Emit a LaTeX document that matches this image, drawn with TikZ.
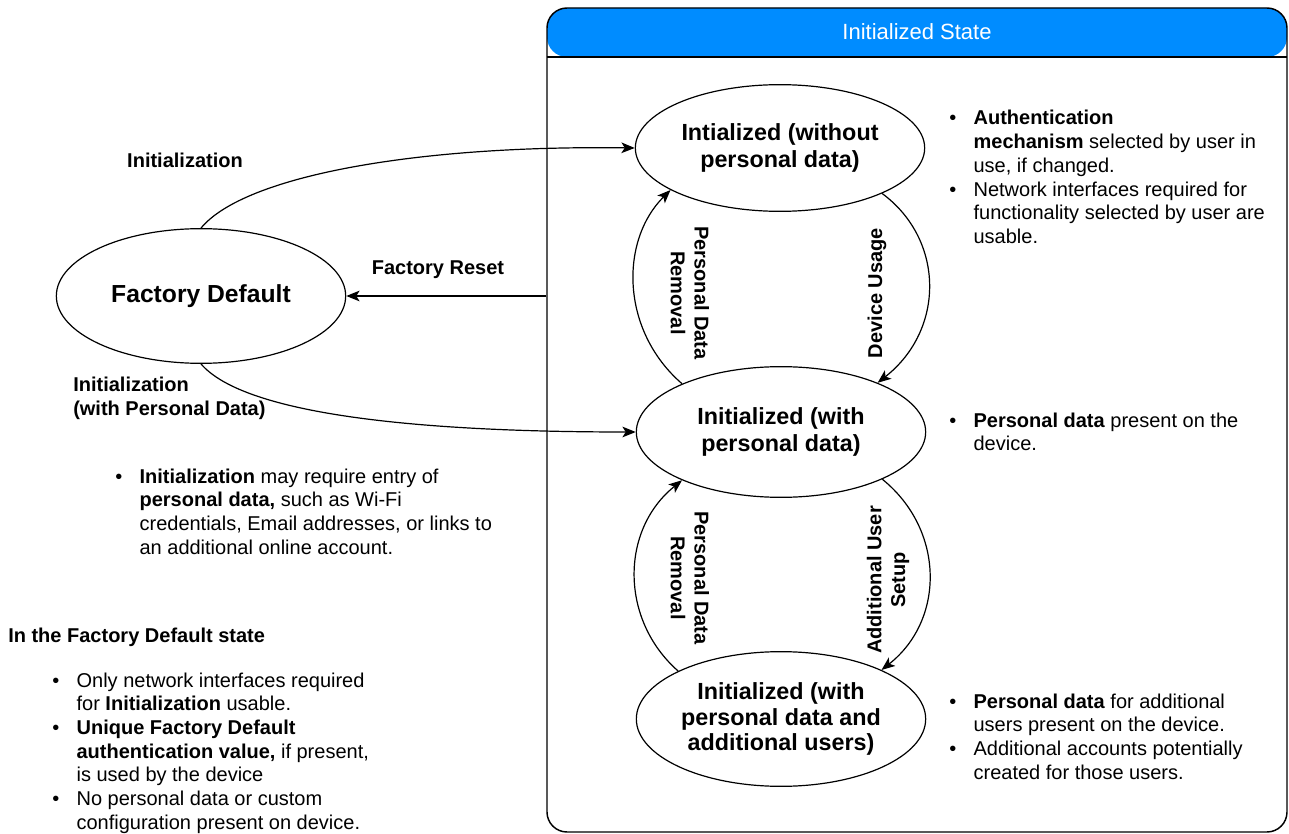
\documentclass[tikz,border=0pt]{standalone}
\usepackage{fontspec}
\setmainfont{Liberation Sans}
\usetikzlibrary{shapes,arrows,arrows.meta}
\usetikzlibrary{positioning}
\definecolor{headblue}{RGB}{0,140,255}
\tikzstyle{state} = [ellipse, draw, line width=0.9pt, text centered, align=center, font=\fontsize{17.5}{20}\selectfont\bfseries, minimum width=217pt, minimum height=98pt, inner sep=1pt]
\tikzstyle{line} = [draw, line width=0.9pt, -{Stealth[length=10pt,width=8pt,inset=2.5pt]}]
\tikzstyle{lbl} = [font=\fontsize{15}{17.8}\selectfont\bfseries, align=center, inner sep=0pt]
\tikzstyle{notes} = [font=\fontsize{15}{17.8}\selectfont, align=left, inner sep=0pt, anchor=base west]
\tikzstyle{container} = [rectangle, draw, line width=1.1pt, rounded corners=15pt, minimum width=555pt, minimum height=618pt,
  path picture={\fill[headblue] (path picture bounding box.north west) rectangle ([yshift=-36.75pt]path picture bounding box.north east);}]
\newcommand{\bul}{\textbullet}

\begin{document}
\begin{tikzpicture}[x=0.75pt, y=-0.75pt]
\useasboundingbox (0,0) rectangle (1289,834);
% Place nodes
\node [container] (initbox) at (917,420) {};
\node [anchor=north, minimum width=555pt, minimum height=36.75pt, inner sep=0pt, text=white, font=\fontsize{16.5}{20}\selectfont] (inithead) at (initbox.north) {Initialized State};
\draw [line width=1.1pt] (inithead.south west) -- (inithead.south east);

\node [state, font=\fontsize{18.5}{21}\selectfont\bfseries, minimum height=101pt] (fd) at (201,296) {Factory Default};
\node [state, minimum height=95pt] (wopd) at (780,148) {Intialized (without\\personal data)};
\node [state] (wpd) at (781,432) {Initialized (with\\personal data)};
\node [state, font=\fontsize{17.5}{19.3}\selectfont\bfseries, minimum height=101pt] (wpdau) at (781,719) {Initialized (with\\personal data and\\additional users)};

% Draw edges
\path [line] (fd.north) .. controls (245,175) and (420,145) .. (wopd.west);
\path [line] (fd.south) .. controls (245,415) and (420,432) .. (wpd.west);
\path [line] (initbox.west |- fd) -- (fd);
\path [line] (wpd.154) .. controls (620,330) and (620,240) .. (wopd.201);
\path [line] (wopd.336) .. controls (945,240) and (945,330) .. (wpd.27);
\path [line] (wpdau.155) .. controls (620,620) and (620,530) .. (wpd.206);
\path [line] (wpd.335) .. controls (945,530) and (945,620) .. (wpdau.26);

% Edge labels
\node [lbl] (initlbl) at (185,160) {Initialization};
\node [lbl] (resetlbl) at (438,270) {Factory Reset};
\node [lbl, align=left, anchor=base west] (initpdlbl) at (73,415) {Initialization\\(with Personal Data)};
\node [lbl, rotate=-90] (rmlbl) at (690,293) {Personal Data\\Removal};
\node [lbl, rotate=90] (uselbl) at (877,293) {Device Usage};
\node [lbl, rotate=-90] (rmlbl2) at (690,578) {Personal Data\\Removal};
\node [lbl, rotate=90] (addlbl) at (888,580) {Additional User\\Setup};

% Notes
\node [notes] (initnote) at (115,483) {\begin{tabular}[t]{@{}l@{\hspace{13pt}}l@{}}
\bul & \textbf{Initialization} may require entry of\\
 & \textbf{personal data,} such as Wi-Fi\\
 & credentials, Email addresses, or links to\\
 & an additional online account.
\end{tabular}};
\node [lbl, anchor=base west] (fdhead) at (8,642) {In the Factory Default state};
\node [notes] (fdnote) at (52,687) {\begin{tabular}[t]{@{}l@{\hspace{13pt}}l@{}}
\bul & Only network interfaces required\\
 & for \textbf{Initialization} usable.\\
\bul & \textbf{Unique Factory Default}\\
 & \textbf{authentication value,} if present,\\
 & is used by the device\\
\bul & No personal data or custom\\
 & configuration present on device.
\end{tabular}};
\node [notes] (wopdnote) at (949,125) {\begin{tabular}[t]{@{}l@{\hspace{13pt}}l@{}}
\bul & \textbf{Authentication}\\
 & \textbf{mechanism} selected by user in\\
 & use, if changed.\\
\bul & Network interfaces required for\\
 & functionality selected by user are\\
 & usable.
\end{tabular}};
\node [notes] (wpdnote) at (949,427) {\begin{tabular}[t]{@{}l@{\hspace{13pt}}l@{}}
\bul & \textbf{Personal data} present on the\\
 & device.
\end{tabular}};
\node [notes] (wpdaunote) at (949,708) {\begin{tabular}[t]{@{}l@{\hspace{13pt}}l@{}}
\bul & \textbf{Personal data} for additional\\
 & users present on the device.\\
\bul & Additional accounts potentially\\
 & created for those users.
\end{tabular}};
\end{tikzpicture}
\end{document}
